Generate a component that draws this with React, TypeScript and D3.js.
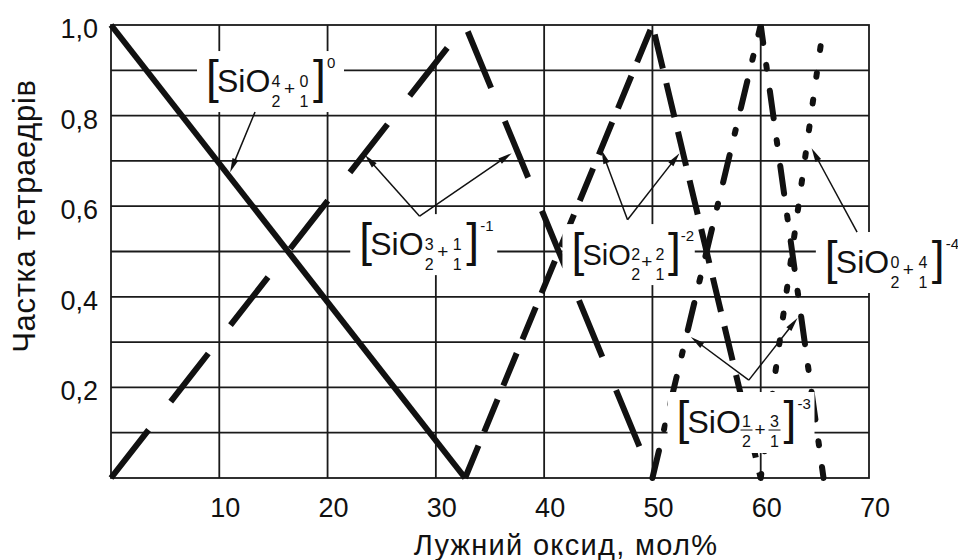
import React from 'react';
import * as d3 from 'd3';

// ---------- data ----------
const xTicks = [10, 20, 30, 40, 50, 60, 70];
const yTicks = [0.2, 0.4, 0.6, 0.8, 1.0];
const yGrid = [0.1, 0.2, 0.3, 0.4, 0.5, 0.6, 0.7, 0.8, 0.9];
const xGrid = [10, 20, 30, 40, 50, 60];

// series: fraction of tetrahedra vs alkali oxide, mol%
const q0X = [0, 32.7];
const q0Y = [1, 0];
const q1X = [0, 32.7, 50];
const q1Y = [0, 1, 0];
const q2X = [32.7, 50, 60];
const q2Y = [0, 1, 0];
const q3X = [50, 60, 65.8];
const q3Y = [0, 1, 0];
const q4X = [60, 65.8];
const q4Y = [0, 1];

// label texts: [upper-left, lower-left, upper-right, lower-right, charge]
const labelParts = [
  ['4', '2', '0', '1', '0'],
  ['3', '2', '1', '1', '-1'],
  ['2', '2', '2', '1', '-2'],
  ['1', '2', '3', '1', '-3'],
  ['0', '2', '4', '1', '-4'],
];
// label anchors (data coords)
const labelAnchorX = [9.05, 23.2, 42.8, 52.5, 66.2];
const labelAnchorY = [0.852, 0.492, 0.47, 0.0993, 0.4525];
const labelFraction = [false, false, false, true, false];
const labelSqueeze = [1, 1, 0.9, 1, 1];

// arrows (data coords): from -> tip
const arrowFrom = [
  [13.3, 0.808],
  [28.5, 0.578], [28.5, 0.578],
  [47.7, 0.57], [47.7, 0.57],
  [58.9, 0.216], [58.9, 0.216],
  [68.9, 0.543],
];
const arrowTo = [
  [11.0, 0.675],
  [23.45, 0.713], [37.0, 0.717],
  [45.3, 0.724], [52.5, 0.717],
  [53.55, 0.311], [63.4, 0.353],
  [64.7, 0.728],
];

const FONT = "'Liberation Sans', Arial, sans-serif";

export default function App() {
  const W = 958, H = 560;
  const x = d3.scaleLinear().domain([0, 70]).range([111, 869]);
  const y = d3.scaleLinear().domain([0, 1]).range([478, 25]);
  const line = d3.line<[number, number]>().x(d => x(d[0])).y(d => y(d[1]));

  const series = [
    { xs: q0X, ys: q0Y, dash: 'none', cap: 'butt', w: 6 },
    { xs: q1X, ys: q1Y, dash: '61,36', cap: 'butt', w: 6 },
    { xs: q2X, ys: q2Y, dash: '35,15', cap: 'butt', w: 6 },
    { xs: q3X, ys: q3Y, dash: '28,22,4,22', cap: 'round', w: 6 },
    { xs: q4X, ys: q4Y, dash: '4,23', cap: 'round', w: 6 },
  ];

  const gridColor = '#1a1a1a';

  return (
    <svg width={W} height={H} style={{ position: 'absolute', left: 0, top: 0, background: '#fff' }} fontFamily={FONT}>
      <rect x={0} y={0} width={W} height={H} fill="#fff" />
      {/* grid */}
      {yGrid.map(v => (
        <line key={'hy' + v} x1={x(0)} x2={x(70)} y1={y(v)} y2={y(v)} stroke={gridColor} strokeWidth={1.8} />
      ))}
      {xGrid.map(v => (
        <line key={'vx' + v} x1={x(v)} x2={x(v)} y1={y(0)} y2={y(1)} stroke={gridColor} strokeWidth={1.8} />
      ))}
      <rect x={x(0)} y={y(1)} width={x(70) - x(0)} height={y(0) - y(1)} fill="none" stroke={gridColor} strokeWidth={1.8} />

      {/* series */}
      {series.map((s, i) => (
        <path key={'s' + i}
          d={line(s.xs.map((v, j) => [v, s.ys[j]] as [number, number])) || ''}
          fill="none" stroke="#111" strokeWidth={s.w}
          strokeDasharray={s.dash} strokeLinecap={s.cap as any} strokeLinejoin="miter" />
      ))}

      {/* labels */}
      {labelParts.map((p, i) => {
        const bx = x(labelAnchorX[i]);
        const by = y(labelAnchorY[i]);
        const frac = labelFraction[i];
        const k = labelSqueeze[i];
        const o = (v: number) => bx + v * k;
        return (
          <g key={'lab' + i}>
            <rect x={bx - 12} y={by - 41} width={147 * k} height={61} fill="#fff" />
            <text x={bx - 3} y={by + 1} fontSize={46} fill="#111">[</text>
            <text x={bx + 8} y={by} fontSize={k < 1 ? 29 : 32} fill="#111">SiO</text>
            <text x={o(67) + (k < 1 ? 1 : 0)} y={frac ? by - 6 : by - 5} fontSize={16} textAnchor="middle" fill="#111">{p[0]}</text>
            <text x={o(67) + (k < 1 ? 1 : 0)} y={frac ? by + 14 : by + 15} fontSize={16} textAnchor="middle" fill="#111">{p[1]}</text>
            <text x={o(80.5)} y={by + 3} fontSize={19} textAnchor="middle" fill="#111">+</text>
            <text x={o(95)} y={frac ? by - 6 : by - 5} fontSize={16} textAnchor="middle" fill="#111">{p[2]}</text>
            <text x={o(95)} y={frac ? by + 14 : by + 15} fontSize={16} textAnchor="middle" fill="#111">{p[3]}</text>
            {frac && <line x1={o(61)} x2={o(73)} y1={by - 3} y2={by - 3} stroke="#111" strokeWidth={1} />}
            {frac && <line x1={o(89)} x2={o(101)} y1={by - 3} y2={by - 3} stroke="#111" strokeWidth={1} />}
            <text x={o(104)} y={by + 1} fontSize={46} fill="#111">]</text>
            <text x={o(118)} y={by - 24} fontSize={15} fill="#111">{p[4]}</text>
          </g>
        );
      })}

      {/* arrows */}
      {arrowFrom.map((f, i) => {
        const x1 = x(f[0]), y1 = y(f[1]);
        const x2 = x(arrowTo[i][0]), y2 = y(arrowTo[i][1]);
        const dx = x2 - x1, dy = y2 - y1;
        const len = Math.hypot(dx, dy);
        const ux = dx / len, uy = dy / len;
        const L = 14, hw = 3.2;
        const bxp = x2 - ux * L, byp = y2 - uy * L;
        const pts = `${x2},${y2} ${bxp - uy * hw},${byp + ux * hw} ${bxp + uy * hw},${byp - ux * hw}`;
        return (
          <g key={'ar' + i}>
            <line x1={x1} y1={y1} x2={bxp + ux * 2} y2={byp + uy * 2} stroke="#111" strokeWidth={1.5} />
            <polygon points={pts} fill="#111" />
          </g>
        );
      })}

      {/* y tick labels */}
      {yTicks.map(v => (
        <text key={'yt' + v} x={98} y={y(v) + 13} fontSize={27} textAnchor="end" fill="#111">
          {v.toFixed(1).replace('.', ',')}
        </text>
      ))}
      {/* x tick labels */}
      {xTicks.map(v => (
        <text key={'xt' + v} x={x(v) + 6} y={517} fontSize={27} textAnchor="middle" fill="#111">{v}</text>
      ))}

      {/* axis titles */}
      <text x={566} y={555} fontSize={29} letterSpacing={1.3} textAnchor="middle" fill="#111">Лужний оксид, мол%</text>
      <text transform="translate(35,216) rotate(-90)" fontSize={31} letterSpacing={0.7} textAnchor="middle" fill="#111">Частка тетраедрів</text>
    </svg>
  );
}
